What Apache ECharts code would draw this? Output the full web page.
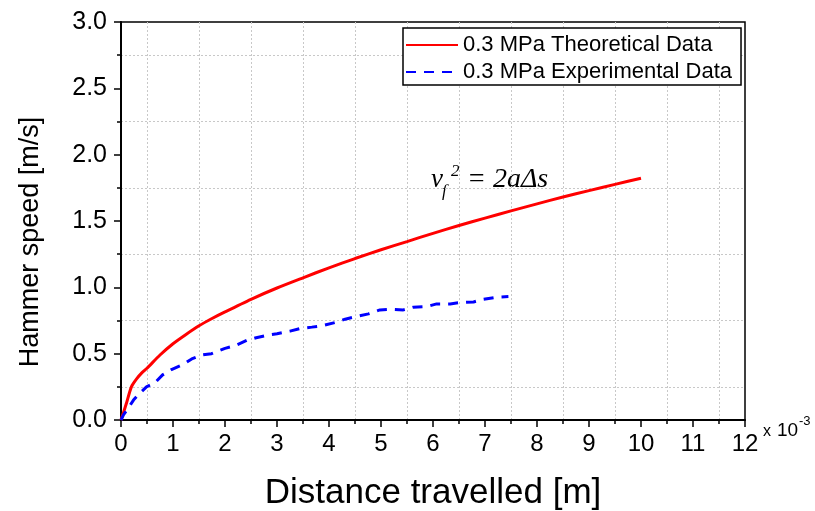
<!DOCTYPE html>
<html>
<head>
<meta charset="utf-8">
<script src="https://cdn.jsdelivr.net/npm/echarts@6/dist/echarts.min.js"></script>
<style>
html,body{margin:0;padding:0;background:#fff;}
#c{width:815px;height:511px;}
</style>
</head>
<body>
<div id="c"></div>
<script>
// Distance in units of 1e-3 m, speed in m/s
const theoX = [0, 0.1, 0.2, 0.3, 0.4, 0.5, 0.75, 1, 1.25, 1.5, 1.75, 2, 2.5, 3, 3.5, 4, 4.5, 5, 5.5, 6, 6.5, 7, 7.5, 8, 8.5, 9, 9.5, 10];
const theoY = [0, 0.12, 0.25, 0.31, 0.355, 0.39, 0.49, 0.575, 0.645, 0.71, 0.765, 0.815, 0.91, 0.995, 1.072, 1.147, 1.217, 1.283, 1.345, 1.407, 1.466, 1.522, 1.576, 1.629, 1.681, 1.729, 1.776, 1.822];
const expX = [0, 0.05, 0.14, 0.24, 0.33, 0.49, 0.65, 0.8, 0.97, 1.2, 1.36, 1.55, 1.74, 2.0, 2.19, 2.42, 2.6, 2.83, 3.0, 3.25, 3.45, 3.67, 3.86, 4.12, 4.31, 4.53, 4.76, 4.98, 5.2, 5.43, 5.62, 5.88, 6.07, 6.33, 6.52, 6.78, 6.97, 7.22, 7.45];
const expY = [0, 0.04, 0.09, 0.15, 0.19, 0.25, 0.28, 0.34, 0.38, 0.42, 0.46, 0.49, 0.5, 0.54, 0.56, 0.6, 0.62, 0.64, 0.65, 0.67, 0.69, 0.70, 0.71, 0.735, 0.76, 0.78, 0.80, 0.83, 0.835, 0.83, 0.85, 0.855, 0.875, 0.875, 0.885, 0.89, 0.91, 0.925, 0.93];
const seriesNames = ['0.3 MPa Theoretical Data', '0.3 MPa Experimental Data'];
const xTitle = 'Distance travelled [m]';
const yTitle = 'Hammer speed [m/s]';

const FONT = 'Liberation Sans';
const chart = echarts.init(document.getElementById('c'), null, {renderer: 'canvas'});
const zip = (xs, ys) => xs.map((x, i) => [x, ys[i]]);

const minorGrid = {show: true, lineStyle: {color: '#c8c8c8', type: [2, 2], width: 1}};

chart.setOption({
  animation: false,
  backgroundColor: '#fff',
  grid: {left: 121, top: 22, right: 70, bottom: 91, show: true, borderColor: '#000', borderWidth: 1.5,
         backgroundColor: 'transparent', containLabel: false, outerBoundsMode: 'none'},
  legend: {
    left: 403, top: 28, orient: 'vertical',
    backgroundColor: '#fff', borderColor: '#000', borderWidth: 1.5, borderRadius: 0,
    padding: [6, 9, 2, 2], itemGap: 5, itemWidth: 52, itemHeight: 14,
    itemStyle: {opacity: 0},
    textStyle: {fontFamily: FONT, fontSize: 22, color: '#000'},
    data: seriesNames
  },
  xAxis: {
    type: 'value', min: 0, max: 12, interval: 1,
    name: xTitle, nameLocation: 'middle', nameGap: 56,
    nameTextStyle: {fontFamily: FONT, fontSize: 35, color: '#000'},
    axisLine: {show: true, onZero: false, lineStyle: {color: '#000', width: 2}},
    axisTick: {show: true, length: 7, lineStyle: {color: '#000', width: 1.5}},
    minorTick: {show: true, splitNumber: 2, length: 4, lineStyle: {color: '#000', width: 1.5}},
    axisLabel: {fontFamily: FONT, fontSize: 24, color: '#000', margin: 12},
    splitLine: {show: false},
    minorSplitLine: minorGrid
  },
  yAxis: {
    type: 'value', min: 0, max: 3, interval: 0.5,
    axisLine: {show: true, onZero: false, lineStyle: {color: '#000', width: 2}},
    axisTick: {show: true, length: 7, lineStyle: {color: '#000', width: 1.5}},
    minorTick: {show: true, splitNumber: 2, length: 4, lineStyle: {color: '#000', width: 1.5}},
    axisLabel: {fontFamily: FONT, fontSize: 25, color: '#000', margin: 14, formatter: v => v.toFixed(1)},
    splitLine: {show: false},
    minorSplitLine: minorGrid
  },
  series: [
    {
      name: seriesNames[0], type: 'line', data: zip(theoX, theoY), symbol: 'none',
      smooth: 0.25,
      lineStyle: {color: '#ff0000', width: 3}, itemStyle: {color: '#ff0000'}
    },
    {
      name: seriesNames[1], type: 'line', data: zip(expX, expY), symbol: 'none', smooth: false,
      lineStyle: {color: '#0000ff', width: 3, type: [10, 8]}, itemStyle: {color: '#0000ff'}
    }
  ],
  graphic: [
    {type: 'text', x: 31, y: 242, rotation: Math.PI / 2,
     style: {text: yTitle, font: '27px "Liberation Sans"', fill: '#000', align: 'center', verticalAlign: 'middle'}},
    {type: 'text', left: 431, top: 166, style: {text: 'v', font: 'italic 27px "Liberation Serif"', fill: '#000'}},
    {type: 'text', left: 442, top: 183, style: {text: 'f', font: 'italic 17px "Liberation Serif"', fill: '#000'}},
    {type: 'text', left: 451, top: 163, style: {text: '2', font: 'italic 17px "Liberation Serif"', fill: '#000'}},
    {type: 'text', left: 467, top: 166, style: {text: '= 2aΔs', font: 'italic 28px "Liberation Serif"', fill: '#000'}},
    {type: 'text', left: 763, top: 424, style: {text: 'x', font: '16px "Liberation Sans"', fill: '#000'}},
    {type: 'text', left: 777, top: 421, style: {text: '10', font: '19px "Liberation Sans"', fill: '#000'}},
    {type: 'text', left: 799, top: 415, style: {text: '-3', font: '13px "Liberation Sans"', fill: '#000'}}
  ]
});
</script>
</body>
</html>
